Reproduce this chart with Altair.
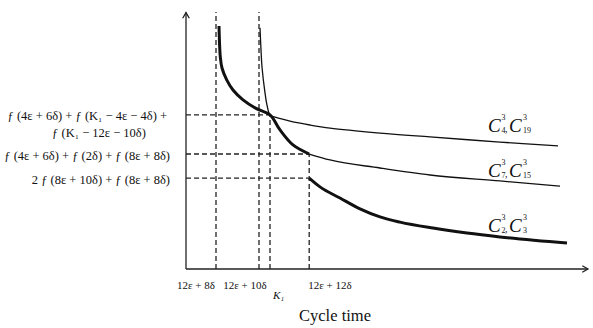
import altair as alt
import pandas as pd

SERIF = "Liberation Serif"
INK = "#111111"

# ---- curves (abstract units: x = cycle time, y = objective value) ----
a_x = [8.25, 8.4, 8.575, 9.0, 10.175, 11.75, 14.25, 17.5, 21.0, 23.5, 26.75, 30.8]
a_y = [93.8, 86.5, 81.9, 77.6, 73.0, 69.1, 65.3, 62.0, 59.5, 53.7, 47.9, 44.4]
b_x = [18.5, 18.75, 19.0, 19.75, 20.25, 21.0, 22.5, 26.0, 31.0, 36.0, 48.5, 61.0, 78.5, 93.0]
b_y = [93.1, 84.6, 78.0, 68.0, 63.3, 59.5, 58.5, 57.1, 55.6, 54.4, 52.5, 51.0, 49.0, 47.5]
c_x = [30.8, 36.0, 48.5, 61.0, 78.5, 93.5]
c_y = [44.4, 42.1, 39.0, 36.3, 34.0, 32.0]
d_x = [30.8, 33.5, 38.5, 43.5, 48.5, 53.5, 61.75, 70.25, 78.5, 95.25]
d_y = [35.1, 31.7, 27.4, 23.2, 20.1, 18.1, 15.8, 13.9, 12.4, 10.0]

# ---- reference (dashed) lines ----
v_x = [7.5, 18.25, 21.0, 30.8]
v_top = [99.2, 99.2, 59.5, 44.4]
h_y = [59.5, 44.4, 35.1]
h_end = [21.0, 30.8, 30.8]

# ---- text ----
tick_text = ["12ε + 8δ", "12ε + 10δ", "12ε + 12δ"]
tick_x = [2.5, 14.75, 36.0]
k_text = ["K₁"]
k_x = [21.75]
left_text = ["ƒ (4ε + 6δ) + ƒ (K₁ − 4ε − 4δ) +",
             "ƒ (4ε + 6δ) + ƒ (2δ) + ƒ (8ε + 8δ)",
             "2 ƒ (8ε + 10δ) + ƒ (8ε + 8δ)"]
left_y = [59.1, 43.6, 34.4]
left_x = [-4.75, -4.0, -4.0]
left2_text = ["ƒ (K₁ − 12ε − 10δ)"]
left2_x = [-21.75]
left2_y = [52.5]
sub1 = ["4", "7", "2"]
sub2 = ["19", "15", "3"]
lab_x = [75.5, 75.5, 75.5]
lab_y = [52.9, 35.6, 14.1]

xs = alt.Scale(domain=[0, 100], nice=False, zero=False)
ys = alt.Scale(domain=[0, 100], nice=False, zero=False)


def X(f="x"):
    return alt.X(f"{f}:Q", scale=xs, axis=None)


def Y(f="y"):
    return alt.Y(f"{f}:Q", scale=ys, axis=None)


curves = []
for name, xx, yy, w, interp in [("A", a_x, a_y, 3.0, "catmull-rom"), ("B", b_x, b_y, 1.3, "catmull-rom"),
                                ("C", c_x, c_y, 1.3, "monotone"), ("D", d_x, d_y, 3.0, "monotone")]:
    df = pd.DataFrame({"x": xx, "y": yy, "o": range(len(xx))})
    curves.append(
        alt.Chart(df).mark_line(color=INK, strokeWidth=w, interpolate=interp,
                                strokeCap="butt")
        .encode(x=X(), y=Y(), order="o:Q")
    )

dash_df = pd.DataFrame({
    "x": v_x + [0.0] * len(h_y),
    "x2": v_x + h_end,
    "y": [0.0] * len(v_x) + h_y,
    "y2": v_top + h_y,
})
dashes = alt.Chart(dash_df).mark_rule(color="#222222", strokeWidth=1.3, strokeDash=[5, 3]).encode(
    x=X(), x2="x2:Q", y=Y(), y2="y2:Q")

axes_df = pd.DataFrame({"x": [0.0, 0.0], "x2": [0.0, 100.5], "y": [0.0, 0.0], "y2": [99.0, 0.0]})
axes = alt.Chart(axes_df).mark_rule(color="#222222", strokeWidth=1.3).encode(
    x=X(), x2="x2:Q", y=Y(), y2="y2:Q")

up = alt.Chart(pd.DataFrame({"x": [0.0], "y": [99.0]})).mark_point(
    shape="M -0.58 1 L 0 0 L 0.58 1", filled=False, stroke="#222222", strokeWidth=1.3,
    size=130, opacity=1).encode(x=X(), y=Y())
right = alt.Chart(pd.DataFrame({"x": [100.5], "y": [0.0]})).mark_point(
    shape="M -1 -0.58 L 0 0 L -1 0.58", filled=False, stroke="#222222", strokeWidth=1.3,
    size=130, opacity=1).encode(x=X(), y=Y())

ticks = alt.Chart(pd.DataFrame({"x": tick_x, "y": [-6.4] * 3, "t": tick_text})).mark_text(
    font=SERIF, fontSize=11, color=INK, align="center", baseline="middle").encode(
    x=X(), y=Y(), text="t:N")
klab = alt.Chart(pd.DataFrame({"x": k_x, "y": [-10.4], "t": k_text})).mark_text(
    font=SERIF, fontSize=11, fontStyle="italic", color=INK, align="left", baseline="middle").encode(
    x=X(), y=Y(), text="t:N")
xtitle = alt.Chart(pd.DataFrame({"x": [37.25], "y": [-18.1], "t": ["Cycle time"]})).mark_text(
    font=SERIF, fontSize=16.5, color=INK, align="center", baseline="middle").encode(
    x=X(), y=Y(), text="t:N")

left = alt.Chart(pd.DataFrame({"x": left_x, "y": left_y, "t": left_text})).mark_text(
    font=SERIF, fontSize=12.5, color=INK, align="right", baseline="middle").encode(
    x=X(), y=Y(), text="t:N")
left2 = alt.Chart(pd.DataFrame({"x": left2_x, "y": left2_y, "t": left2_text})).mark_text(
    font=SERIF, fontSize=12.5, color=INK, align="center", baseline="middle").encode(
    x=X(), y=Y(), text="t:N")

lab_df = pd.DataFrame({"x": lab_x, "y": lab_y, "c": ["C"] * 3, "sup": ["3"] * 3,
                       "comma": [","] * 3, "s1": sub1, "s2": sub2})


def piece(field, dx, dy, size, style="normal"):
    return alt.Chart(lab_df).mark_text(
        font=SERIF, fontSize=size, fontStyle=style, color=INK, align="left",
        baseline="alphabetic", dx=dx, dy=dy).encode(x=X(), y=Y(), text=f"{field}:N")


labels = [
    piece("c", 0, 0, 19, "italic"),
    piece("sup", 13.5, -12, 8),
    piece("s1", 13.5, 1, 8),
    piece("comma", 17, 0, 10),
    piece("c", 21, 0, 19, "italic"),
    piece("sup", 35, -12, 8),
    piece("s2", 35, 1, 8),
]

chart = alt.layer(dashes, axes, up, right, *curves, ticks, klab, xtitle, left, left2, *labels).properties(
    width=400, height=259,
    padding={"left": 186, "top": 10, "right": 7, "bottom": 59},
    autosize=alt.AutoSizeParams(type="none"),
    background="white",
).configure_view(stroke=None)

chart.save("out.html", embed_options={"renderer": "svg", "actions": False})
